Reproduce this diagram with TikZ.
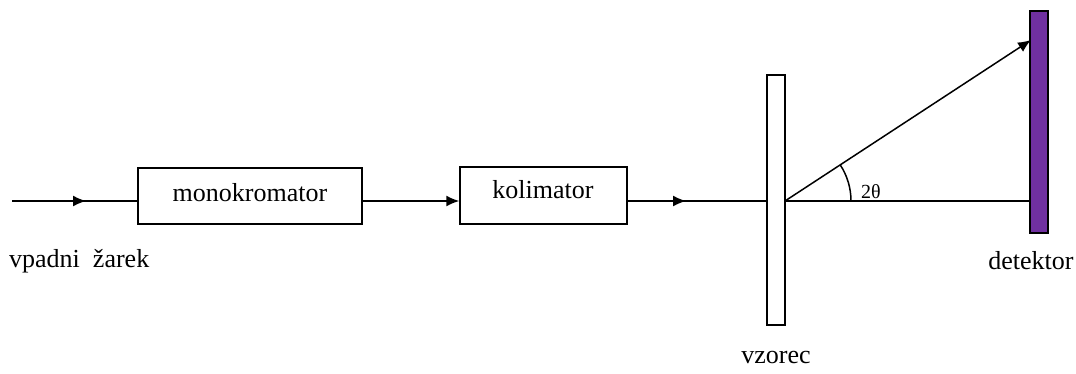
\documentclass[tikz,border=0pt]{standalone}
\usepackage{fontspec}
\setmainfont{Liberation Serif}
\usetikzlibrary{arrows.meta,calc}
\begin{document}
\begin{tikzpicture}[x=1pt,y=-1pt,
  font=\fontsize{26}{30}\selectfont,
  box/.style={draw,line width=1.5pt,fill=white,inner sep=0pt},
  beam/.style={line width=1.5pt},
  tip/.style={-{Latex[length=13pt,width=11pt]}},
  lbl/.style={inner sep=0pt,anchor=center}]
\useasboundingbox (0,0) rectangle (1076,373);
% boxes
\node[box,minimum width=224pt,minimum height=56pt] (mono) at (250,196) {};
\node[lbl] at (250,193) {monokromator};
\node[box,minimum width=167pt,minimum height=57pt] (kol) at (543.5,195.5) {};
\node[lbl] at (543,190) {kolimator};
% beam lines
\coordinate (src) at (12,201);
\coordinate (a1) at (86,201);
\coordinate (a2) at (686,201);
\coordinate (det) at (1030,201);
\coordinate (hit) at (1031,40);
\draw[beam] (src) -- (src -| mono.west);
\draw[beam,tip] (src) -- (a1);
\draw[beam,tip] (mono.east |- src) -- (kol.west |- src);
\draw[beam] (kol.east |- src) -- (det);
\draw[beam,tip] (kol.east |- src) -- (a2);
% sample
\node[box,minimum width=18pt,minimum height=250pt] (vz) at (776,200) {};
\coordinate (o) at (785,201);
\draw[beam] (o) -- (det);
\draw[beam,tip] (o) -- (hit);
% detector
\node[draw,line width=1.5pt,fill={rgb,255:red,112;green,48;blue,160},inner sep=0pt,minimum width=18pt,minimum height=222pt] (detbox) at (1039,122) {};
% angle
\draw[beam] ($(o)+(66,0)$) arc[start angle=0,end angle=-33.3,radius=66];
\node[lbl,font=\fontsize{20}{24}\selectfont] (ang) at (871,192) {2θ};
% labels
\node[lbl,anchor=west] (vp) at (9,261) {vpadni\hspace{0.5em}žarek};
\node[lbl] (vzl) at (776,357) {vzorec};
\node[lbl] (dl) at (1031,261) {detektor};
\end{tikzpicture}
\end{document}
